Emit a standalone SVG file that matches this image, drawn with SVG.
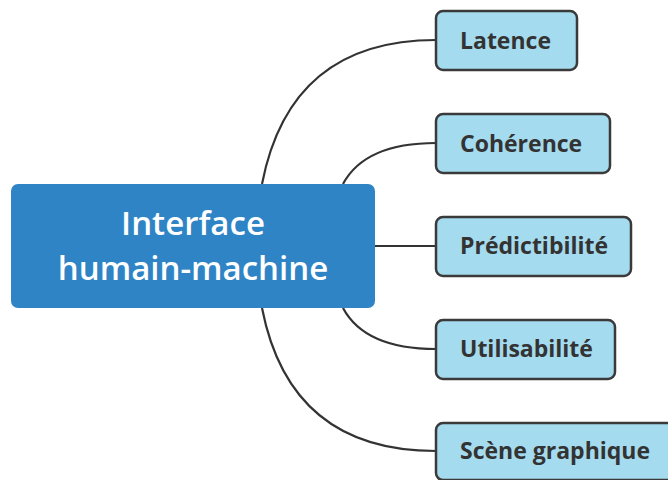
<svg xmlns="http://www.w3.org/2000/svg" width="668" height="480" viewBox="0 0 668 480">
<style>
.conn{fill:none;stroke:#333;stroke-width:2.2}
.leaf rect{fill:#A4DBEE;stroke:#3a3a3a;stroke-width:2.5}
.leaf text{font-family:"Open Sans","DejaVu Sans",sans-serif;font-weight:700;font-size:23px;fill:#333}
.root rect{fill:#2F84C6;stroke:none}
.root text{font-family:"Open Sans","DejaVu Sans",sans-serif;font-weight:600;font-size:33px;fill:#fff;text-anchor:middle}
</style>
<rect width="668" height="480" fill="#fff"/>
<g id="connectors">
<path class="conn" d="M262,184 Q290,40 436,40"/>
<path class="conn" d="M343,184 Q365,143 436,143"/>
<path class="conn" d="M375,246 L436,246"/>
<path class="conn" d="M343,308 Q365,349 436,349"/>
<path class="conn" d="M262,308 Q290,451 436,451"/>
</g>
<g id="root" class="root">
<rect x="11" y="184" width="364" height="124" rx="7"/>
<text x="193" y="235">Interface</text>
<text x="193" y="280">humain-machine</text>
</g>
<g id="latence" class="leaf">
<rect x="436" y="11" width="141" height="59" rx="7"/>
<text x="460" y="49">Latence</text>
</g>
<g id="coherence" class="leaf">
<rect x="436" y="114" width="174" height="59" rx="7"/>
<text x="460" y="152">Cohérence</text>
</g>
<g id="predictibilite" class="leaf">
<rect x="436" y="217" width="195" height="59" rx="7"/>
<text x="460" y="254">Prédictibilité</text>
</g>
<g id="utilisabilite" class="leaf">
<rect x="436" y="320" width="179" height="59" rx="7"/>
<text x="460" y="357">Utilisabilité</text>
</g>
<g id="scene" class="leaf">
<rect x="436" y="423" width="240" height="57" rx="7"/>
<text x="460" y="459">Scène graphique</text>
</g>
</svg>
